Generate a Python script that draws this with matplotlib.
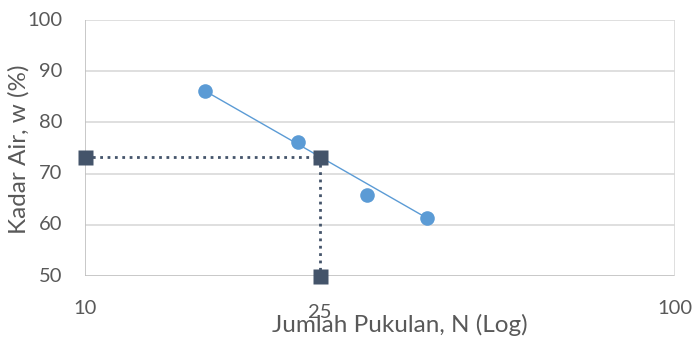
import matplotlib
matplotlib.use("Agg")
import matplotlib.pyplot as plt

plt.rcParams['font.family'] = ['Lato', 'DejaVu Sans']

# Liquid limit test: number of blows vs. water content
blows = [16, 23, 30, 38]
water_content = [86.1, 76.2, 65.8, 61.3]

# Water content at N = 25
n_ref = 25
w_ref = 73.3

x_ticks = [10, 25, 100]
y_ticks = [50, 60, 70, 80, 90, 100]

text_color = '#595959'
grid_color = '#D9D9D9'
point_color = '#5B9BD5'
guide_color = '#44546A'

fig = plt.figure(figsize=(6.94, 3.4), dpi=100)
ax = fig.add_axes([85 / 694, 1 - 276 / 340, 590 / 694, 256 / 340])

ax.set_xscale('log')
ax.set_xlim(10, 100)
ax.set_ylim(50, 100)

# horizontal gridlines and the vertical lines at the decades
for y in y_ticks[1:]:
    ax.axhline(y, color=grid_color, lw=1.2, zorder=0)
ax.axhline(50, color='#BFBFBF', lw=1.2, zorder=0)
for x in (10, 100):
    ax.axvline(x, color=grid_color if x == 100 else '#BFBFBF', lw=1.2, zorder=0)

for s in ax.spines.values():
    s.set_visible(False)

# flow line from first to last point
ax.plot([blows[0], blows[-1]], [water_content[0], water_content[-1]],
        color=point_color, lw=1, zorder=2)
ax.plot(blows, water_content, 'o', color=point_color, ms=10.5, mec='none', zorder=3)

# dotted guides to read w at N = 25
ax.plot([10, n_ref], [w_ref, w_ref], ':', color=guide_color, lw=2, zorder=2)
ax.plot([n_ref, n_ref], [w_ref, 50], ':', color=guide_color, lw=2, zorder=2)
ax.plot([10, n_ref, n_ref], [w_ref, w_ref, 50], 's', color=guide_color, ms=10.8,
        mec='none', zorder=4, clip_on=False)

ax.set_xticks([])
ax.set_yticks([])
ax.minorticks_off()

# y labels, right-aligned left of the plot
ytrans = ax.get_yaxis_transform()
for y in y_ticks:
    ax.annotate(str(y), xy=(0, y), xycoords=ytrans, xytext=(-23, 0),
                textcoords='offset pixels', ha='right', va='center',
                fontsize=14.5, color=text_color)

# x labels for the decades and N = 25
xtrans = ax.get_xaxis_transform()
for x, dy in zip(x_ticks, [-32, -36, -32]):
    ax.annotate(str(x), xy=(x, 0), xycoords=xtrans, xytext=(0, dy),
                textcoords='offset pixels', ha='center', va='center',
                fontsize=14.5, color=text_color)

fig.text(400 / 694, 1 - 325 / 340, 'Jumlah Pukulan, N (Log)', ha='center',
         va='center', fontsize=17.5, color=text_color)
fig.text(19 / 694, 1 - 149 / 340, 'Kadar Air, w (%)', ha='center', va='center',
         rotation=90, fontsize=17.5, color=text_color)

fig.savefig('out.png', dpi=100)
